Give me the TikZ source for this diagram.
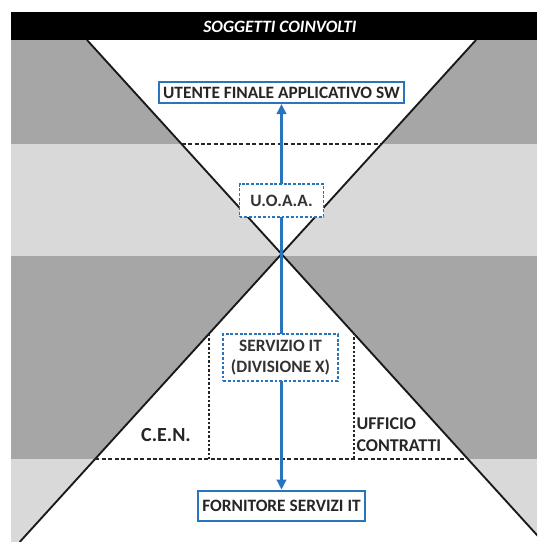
\documentclass[tikz,border=0pt]{standalone}
\usepackage{fontspec}
\setmainfont{Carlito}
\usetikzlibrary{arrows.meta}

\definecolor{bandDark}{RGB}{166,166,166}
\definecolor{bandLight}{RGB}{217,217,217}
\definecolor{flowBlue}{RGB}{40,117,190}

\tikzset{every picture/.style={line width=0.75pt}}
\tikzset{
  actorbox/.style={draw=flowBlue, line width=1.5pt, fill=white, inner xsep=3pt, inner ysep=1pt,
    font=\fontsize{13}{15.75}\selectfont\bfseries, text=black!85},
  unitbox/.style={draw=flowBlue, line width=1.4pt, dash pattern={on 2.2pt off 1.3pt}, fill=white,
    inner xsep=3pt, inner ysep=2pt, align=center, font=\fontsize{13}{15.75}\selectfont\bfseries, text=black!80},
  sidelabel/.style={inner sep=0.75pt, align=left, text=black!85},
  flowline/.style={draw=flowBlue, line width=2.2pt, -{Triangle[length=7.5pt,width=7pt]}},
  cutline/.style={line width=2pt, dash pattern={on 3pt off 1.8pt}, black!85},
  dotline/.style={line width=2.2pt, dash pattern={on 1.8pt off 1.5pt}, black!85},
  hourline/.style={line width=1.4pt, black!90}
}

\begin{document}
\begin{tikzpicture}[x=0.75pt,y=0.75pt,yscale=-1,xscale=1]
\useasboundingbox (0,0) rectangle (537,542);

\begin{scope}
\clip (11,12) rectangle (537,542);
%Shape: Rectangle [bands]
\fill[bandDark] (11,40) rectangle (537,144);
\fill[bandLight] (11,144) rectangle (537,256);
\fill[bandDark] (11,256) rectangle (537,459);
\fill[bandLight] (11,459) rectangle (537,542);
%Shape: Triangle [top funnel]
\fill[white] (87,40) -- (476,40) -- (281.5,254) -- cycle ;
%Shape: Triangle [bottom funnel]
\fill[white] (281.5,254) -- (19.7,542) -- (543.3,542) -- cycle ;
%Straight Lines [hourglass]
\draw[hourline] (87,40) -- (543.3,542) ;
\draw[hourline] (476,40) -- (19.7,542) ;
%Shape: Rectangle [title bar]
\fill[black] (11,12) rectangle (537,40);
\end{scope}

%Straight Lines [dashed limits]
\draw[cutline] (181.8,144) -- (382.2,144) ;
\draw[cutline] (95.3,459) -- (467.7,459) ;
%Straight Lines [dotted sides]
\draw[dotline] (209,334) -- (209,459) ;
\draw[dotline] (354,333) -- (354,459) ;

% Text Node
\node (title) at (280,27) [text=white, font=\fontsize{13}{15}\selectfont\bfseries\itshape] {SOGGETTI COINVOLTI};
% Text Node
\node (utente) at (281.5,92.5) [actorbox, minimum height=15.75pt] {UTENTE FINALE APPLICATIVO SW};
% Text Node
\node (fornitore) at (281.5,506) [actorbox, minimum height=23pt] {FORNITORE SERVIZI IT};

\coordinate (cross) at (281.5,254);
%Arrows
\draw[flowline] (cross) -- (utente) ;
\draw[flowline] (cross) -- (fornitore) ;

% Text Node
\node (uoaa) at (281.5,200.5) [unitbox, minimum width=63pt, minimum height=24.75pt] {U.O.A.A.};
% Text Node
\node (servizio) at (280.5,357.5) [unitbox, minimum width=86pt, minimum height=35pt] {SERVIZIO IT\\(DIVISIONE X)};
% Text Node
\node (cen) at (166,435) [sidelabel, font=\fontsize{15}{18}\selectfont\bfseries] {C.E.N.};
% Text Node
\node (ufficio) at (355,434.5) [sidelabel, anchor=west, font=\fontsize{13.5}{17}\selectfont\bfseries] {UFFICIO\\CONTRATTI};

\end{tikzpicture}
\end{document}
